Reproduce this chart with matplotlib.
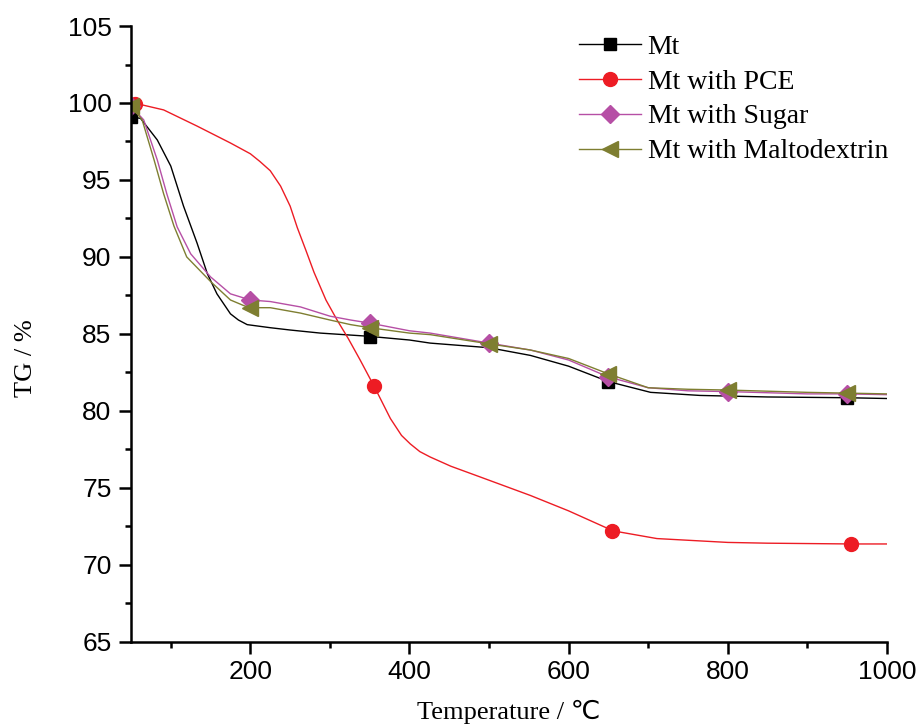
import matplotlib
matplotlib.use("Agg")
import matplotlib.pyplot as plt
from matplotlib.ticker import MultipleLocator

# curve points (temperature in C, TG in %)
mt_x = [50, 62, 83, 100, 116, 133, 146, 158, 175, 185, 196, 225, 250, 288, 347, 400, 426, 500, 552, 600, 650, 703, 765, 850, 950, 1000]
mt_y = [99.1, 99.0, 97.6, 95.9, 93.3, 90.9, 88.9, 87.6, 86.3, 85.9, 85.6, 85.4, 85.25, 85.05, 84.85, 84.6, 84.4, 84.1, 83.6, 82.9, 81.9, 81.2, 81.0, 80.9, 80.85, 80.8]

pce_x = [50, 62, 91, 133, 175, 200, 212, 225, 238, 250, 259, 270, 280, 295, 309, 323, 338, 356, 376, 390, 401, 413, 426, 452, 489, 552, 600, 656, 711, 800, 850, 955, 1000]
pce_y = [100.0, 99.9, 99.55, 98.5, 97.4, 96.7, 96.2, 95.6, 94.6, 93.3, 91.9, 90.4, 89.0, 87.2, 85.9, 84.7, 83.3, 81.55, 79.5, 78.4, 77.85, 77.35, 77.0, 76.4, 75.7, 74.5, 73.5, 72.2, 71.7, 71.45, 71.4, 71.35, 71.35]

sugar_x = [50, 66, 83, 95, 108, 125, 150, 175, 200, 225, 263, 300, 326, 350, 400, 426, 500, 552, 600, 650, 700, 750, 800, 900, 950, 1000]
sugar_y = [99.8, 98.9, 96.3, 94.1, 91.95, 90.2, 88.7, 87.6, 87.2, 87.1, 86.75, 86.15, 85.9, 85.7, 85.2, 85.05, 84.4, 83.95, 83.3, 82.2, 81.5, 81.3, 81.25, 81.1, 81.1, 81.05]

malto_x = [50, 64, 79, 91, 104, 120, 150, 175, 198, 225, 263, 300, 326, 350, 400, 426, 500, 552, 600, 650, 700, 750, 800, 900, 950, 1000]
malto_y = [99.8, 98.9, 96.3, 94.1, 92.0, 90.0, 88.4, 87.2, 86.7, 86.7, 86.35, 85.9, 85.6, 85.4, 85.05, 84.95, 84.35, 83.95, 83.4, 82.4, 81.5, 81.4, 81.35, 81.2, 81.15, 81.1]

# marker positions
mt_mx = [50, 350, 650, 950]
mt_my = [99.1, 84.8, 81.9, 80.85]
pce_mx = [55, 355, 655, 955]
pce_my = [99.95, 81.6, 72.2, 71.35]
sugar_mx = [50, 200, 350, 500, 650, 800, 950]
sugar_my = [99.8, 87.2, 85.7, 84.4, 82.2, 81.25, 81.1]
malto_mx = [50, 200, 350, 500, 650, 800, 950]
malto_my = [99.8, 86.7, 85.4, 84.35, 82.4, 81.35, 81.15]

labels = ["Mt", "Mt with PCE", "Mt with Sugar", "Mt with Maltodextrin"]
colors = ["black", "#ED1C24", "#B64FA5", "#7E7E31"]
markers = ["s", "o", "D", "<"]
msizes = [8, 10, 9, 11]

fig = plt.figure(figsize=(9.2, 7.25), dpi=100)
ax = fig.add_axes([0.1424, 0.1149, 0.8216, 0.8492])

series = [(mt_x, mt_y, mt_mx, mt_my), (pce_x, pce_y, pce_mx, pce_my),
          (sugar_x, sugar_y, sugar_mx, sugar_my), (malto_x, malto_y, malto_mx, malto_my)]
handles = []
for (cx, cy, mx, my), lab, c, m, ms in zip(series, labels, colors, markers, msizes):
    ax.plot(cx, cy, color=c, lw=1.0)
    ax.plot(mx, my, ls="none", marker=m, ms=ms, color=c, mec=c)
    # proxy for legend
    h, = ax.plot([], [], color=c, lw=1.0, marker=m, ms=ms, mec=c, label=lab)
    handles.append(h)

ax.set_xlim(50, 1000)
ax.set_ylim(65, 105)
ax.xaxis.set_minor_locator(MultipleLocator(100))
ax.yaxis.set_major_locator(MultipleLocator(5))
ax.yaxis.set_minor_locator(MultipleLocator(2.5))
ax.set_xticks([200, 400, 600, 800, 1000])

for s in ["top", "right"]:
    ax.spines[s].set_visible(False)
for s in ["left", "bottom"]:
    ax.spines[s].set_linewidth(1.8)

ax.tick_params(which="major", direction="out", length=8.5, width=1.8,
               labelsize=19)
ax.tick_params(axis="y", which="major", pad=5.5)
ax.tick_params(axis="x", which="major", pad=5)
ax.tick_params(which="minor", direction="out", length=4.5, width=1.8)
for t in ax.get_xticklabels() + ax.get_yticklabels():
    t.set_fontfamily("Liberation Sans")

ax.set_xlabel("Temperature / ℃", fontsize=19, family=["Liberation Serif", "DejaVu Sans"], labelpad=11)
ax.set_ylabel("TG / %", fontsize=19, family="Liberation Serif")
ax.yaxis.set_label_coords(-0.124, 0.46)

fig.legend(handles, labels, loc="upper left", bbox_to_anchor=(0.614, 0.972), frameon=False,
           prop={"family": "Liberation Serif", "size": 20},
           handlelength=2.23, handletextpad=0.25, labelspacing=0.34, borderpad=0)

fig.savefig("out.png", dpi=100)
